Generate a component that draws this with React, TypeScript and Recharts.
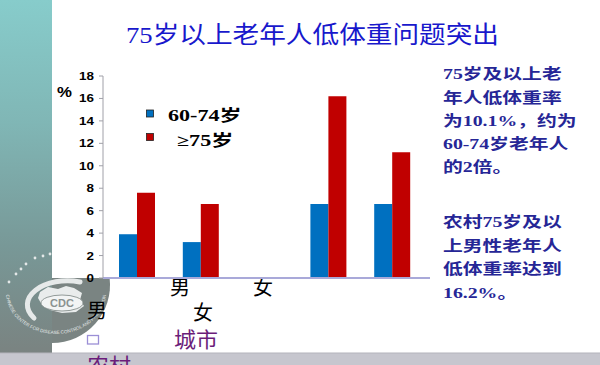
import React from "react";
import { BarChart, Bar, XAxis, YAxis, Legend } from "recharts";

// ---- data ----
const categories = ["城市男", "城市女", "", "农村男", "农村女"];
const age6074 = [3.9, 3.2, null, 6.6, 6.6];
const age75plus = [7.6, 6.6, null, 16.2, 11.2];
const seriesNames = ["60-74岁", "≥75岁"];
const yTicks = [0, 2, 4, 6, 8, 10, 12, 14, 16, 18];
const yUnit = "%";
const titleText = "75岁以上老年人低体重问题突出";
const note1 = ["75岁及以上老", "年人低体重率", "为10.1%，约为", "60-74岁老年人", "的2倍。"];
const note2 = ["农村75岁及以", "上男性老年人", "低体重率达到", "16.2%。"];
const sexLabels = ["男", "女"];
const areaLabels = ["城市", "农村"];
const logoText = "CDC";
const logoRing = "CHINESE CENTER FOR DISEASE CONTROL AND PREVENTION";

const data = categories.map((c, i) => ({ name: c, a: age6074[i], b: age75plus[i] }));

const SERIF = "'Liberation Serif', 'Noto Sans CJK SC', serif";
const SANS = "'Liberation Sans', Arial, sans-serif";

const YTick = (props: any) => {
  const { x, y, payload } = props;
  return (
    <g transform={`translate(${x - 1},${y})`}>
      <text transform="scale(1.22,1)" textAnchor="end" dy={4} fontSize={11} fontWeight="bold" fontFamily={SANS} fill="#000">
        {payload.value}
      </text>
    </g>
  );
};

const LegendContent = (props: any) => {
  const payload = props.payload || [];
  return (
    <svg width={130} height={54} style={{ overflow: "visible" }}>
      {payload.map((p: any, i: number) => (
        <g key={i}>
          <rect x={6.5} y={10 + i * 23.5} width={7} height={7} fill={p.color} stroke="#222" strokeWidth={0.8} />
          <g transform={`translate(${i === 0 ? 28 : 37},${21 + i * 25}) scale(1.38,1)`}>
            <text x={0} y={0} fontSize={16} fontWeight="bold" fontFamily={SERIF} fill="#000">
              {p.value}
            </text>
          </g>
        </g>
      ))}
    </svg>
  );
};

const Background = () => (
  <svg width={600} height={365} style={{ position: "absolute", left: 0, top: 0 }}>
    <defs>
      <linearGradient id="strip" x1="0" y1="0" x2="0" y2="1">
        <stop offset="0" stopColor="#87CCCB" />
        <stop offset="0.35" stopColor="#80B6B5" />
        <stop offset="0.7" stopColor="#789897" />
        <stop offset="1" stopColor="#7A8381" />
      </linearGradient>
      <path id="ring" d="M 6 292 A 50 42 0 0 0 106 292" />
    </defs>
    <rect x={0} y={0} width={600} height={365} fill="#fff" />
    <rect x={0} y={0} width={52} height={353} fill="url(#strip)" />
    <path d="M52,278 L109.6,278 A58,58 0 0 1 52,343 Z" fill="#7A8482" />
    {/* logo */}
    {[[9, 282], [16, 274], [21, 269], [26, 264], [35, 258], [43, 256], [50, 254]].map(([cx, cy], i) => (
      <circle key={i} cx={cx} cy={cy} r={1.4} fill="#E4E8E8" />
    ))}
    <path d="M 80 282 A 40 24 0 0 0 34 318" stroke="#E6E9E9" strokeWidth={5} fill="none" strokeLinecap="round" />
    <path d="M40,292 L48,287 L58,289 L66,286 L74,288 L82,293 L80,300 L84,306 L76,312 L62,313 L50,310 L42,305 L38,298 Z" fill="#E9ECEC" />
    <ellipse cx={62} cy={303} rx={21} ry={8} fill="#F2F4F4" stroke="#7A8482" strokeWidth={0.8} />
    <text x={62} y={307} textAnchor="middle" fontSize={11} fontWeight="bold" fontFamily={SANS} fill="#8A9290">
      {logoText}
    </text>
    <text fontSize={4.6} fontFamily={SANS} fill="#E4E8E8">
      <textPath href="#ring" startOffset="2%">{logoRing}</textPath>
    </text>
    {/* bottom bar */}
    <rect x={0} y={353} width={600} height={12} fill="#C6C6CE" />
    <rect x={0} y={352.5} width={600} height={1} fill="#B4B4BC" />

    {/* title */}
    <text x={126} y={43} fontSize={24} fontFamily={SERIF} fill="#1818CC" textLength={373} lengthAdjust="spacingAndGlyphs">
      {titleText}
    </text>

    {/* notes */}
    <g transform="translate(443,0) scale(1.32,1)">
      {note1.map((t, i) => (
        <text key={"a" + i} x={0} y={79.5 + i * 23.2} fontSize={15} fontWeight="bold" fontFamily={SERIF} fill="#262696">
          {t}
        </text>
      ))}
      {note2.map((t, i) => (
        <text key={"b" + i} x={0} y={227.5 + i * 23.5} fontSize={15} fontWeight="bold" fontFamily={SERIF} fill="#262696">
          {t}
        </text>
      ))}
    </g>

    {/* unit */}
    <g transform="translate(57,97) scale(1.2,1)">
      <text x={0} y={0} fontSize={14} fontWeight="bold" fontFamily={SANS} fill="#000">
        {yUnit}
      </text>
    </g>

    {/* broken category labels */}
    <text x={180} y={294.5} textAnchor="middle" fontSize={20} fontFamily={SERIF} fill="#000">{sexLabels[0]}</text>
    <text x={263} y={294.5} textAnchor="middle" fontSize={20} fontFamily={SERIF} fill="#000">{sexLabels[1]}</text>
    <text x={97} y={317.5} textAnchor="middle" fontSize={20} fontFamily={SERIF} fill="#000">{sexLabels[0]}</text>
    <text x={203} y={319.5} textAnchor="middle" fontSize={20} fontFamily={SERIF} fill="#000">{sexLabels[1]}</text>
    <rect x={87.5} y={335.5} width={11} height={8.5} fill="none" stroke="#9B8FD6" strokeWidth={1.3} />
    <text x={174} y={347} fontSize={21} fontFamily={SERIF} fill="#6B1D7A" textLength={44} lengthAdjust="spacingAndGlyphs">{areaLabels[0]}</text>
    <text x={87} y={373} fontSize={21} fontFamily={SERIF} fill="#6B1D7A" textLength={44} lengthAdjust="spacingAndGlyphs">{areaLabels[1]}</text>
  </svg>
);

export default function App() {
  return (
    <div style={{ position: "absolute", left: 0, top: 0, width: 600, height: 365, overflow: "hidden", background: "#fff" }}>
      <Background />
      <div style={{ position: "absolute", left: 0, top: 0 }}>
        <BarChart
          width={600}
          height={365}
          data={data}
          margin={{ top: 76, right: 170, bottom: 57, left: 63 }}
          barGap={0}
          barSize={18}
        >
          <XAxis
            dataKey="name"
            tick={false}
            tickLine={false}
            axisLine={{ stroke: "#A9A9D9", strokeWidth: 2 }}
            height={30}
            padding={{ left: 2, right: 6 }}
          />
          <YAxis
            width={40}
            domain={[0, 18]}
            ticks={yTicks}
            interval={0}
            tickSize={4}
            tickMargin={4}
            axisLine={{ stroke: "#A0A0A8" }}
            tickLine={{ stroke: "#A0A0A8" }}
            tick={<YTick />}
          />
          <Legend
            layout="vertical"
            align="center"
            verticalAlign="middle"
            content={<LegendContent />}
            wrapperStyle={{ position: "absolute", left: 140, top: 100, width: 130, height: 54 }}
          />
          <Bar dataKey="a" name={seriesNames[0]} fill="#0070C0" isAnimationActive={false} />
          <Bar dataKey="b" name={seriesNames[1]} fill="#C00000" isAnimationActive={false} />
        </BarChart>
      </div>
    </div>
  );
}
